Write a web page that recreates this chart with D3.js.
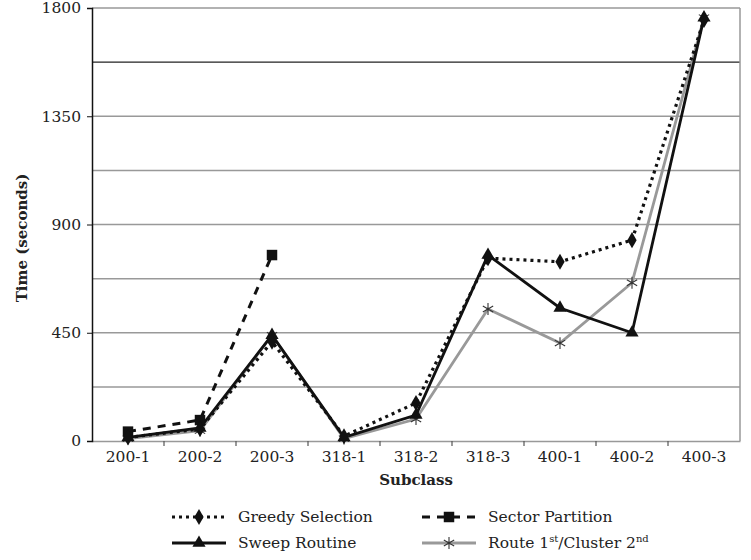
<!DOCTYPE html>
<html>
<head>
<meta charset="utf-8">
<script src="https://cdn.jsdelivr.net/npm/d3@7"></script>
<style>
  body { margin: 0; background: #fff; }
  text { font-family: "DejaVu Serif", "Liberation Serif", serif; fill: #222; }
</style>
</head>
<body>
<svg id="chart" width="751" height="560"></svg>
<script>
// data
var subclasses = ["200-1", "200-2", "200-3", "318-1", "318-2", "318-3", "400-1", "400-2", "400-3"];
var greedy = [15, 50, 413, 20, 158, 760, 745, 835, 1750];
var sector = [39, 87, 773];
var sweep = [15, 54, 440, 15, 108, 773, 553, 450, 1760];
var route = [10, 43, 440, 10, 91, 549, 407, 658, 1760];
var yTicks = [0, 450, 900, 1350, 1800];
var yGrid = [225, 450, 675, 900, 1125, 1350, 1575, 1800];

var svg = d3.select("#chart");
var plotL = 92, plotR = 740, plotT = 8, plotB = 441;

var x = d3.scaleBand().domain(subclasses).range([plotL, plotR]);
var y = d3.scaleLinear().domain([0, 1800]).range([plotB, plotT]);

// gridlines
svg.selectAll("line.grid")
    .data(yGrid)
    .enter()
    .append("line")
    .attr("class", "grid")
    .attr("x1", plotL).attr("x2", plotR)
    .attr("y1", function (d) { return y(d); })
    .attr("y2", function (d) { return y(d); })
    .attr("stroke", function (d) { return d == 1575 ? "#222" : "#999"; })
    .attr("stroke-width", function (d) { return d == 1575 ? 1.2 : 1.5; });

// right border
svg.append("line")
    .attr("x1", plotR).attr("x2", plotR).attr("y1", plotT).attr("y2", plotB)
    .attr("stroke", "#999").attr("stroke-width", 1.5);

// x axis
var xAxis = svg.append("g")
    .attr("transform", "translate(0," + plotB + ")")
    .call(d3.axisBottom(x).tickSize(0).tickPadding(10));
xAxis.select(".domain").attr("stroke", "#999").attr("stroke-width", 1.5);
xAxis.selectAll("text").attr("font-size", 15.5).style("font-family", "DejaVu Serif, serif").attr("fill", "#222");
// boundary ticks between categories
svg.selectAll("line.xtick")
    .data(subclasses.slice(1))
    .enter()
    .append("line")
    .attr("class", "xtick")
    .attr("x1", function (d) { return x(d); })
    .attr("x2", function (d) { return x(d); })
    .attr("y1", plotB).attr("y2", plotB + 5)
    .attr("stroke", "#555").attr("stroke-width", 1.2);

// y axis
var yAxis = svg.append("g")
    .attr("transform", "translate(" + plotL + ",0)")
    .call(d3.axisLeft(y).tickValues(yTicks).tickFormat(d3.format("d")).tickSize(5).tickPadding(6));
yAxis.select(".domain").attr("stroke", "#111").attr("stroke-width", 1.5);
yAxis.selectAll("line").attr("stroke", "#111");
yAxis.selectAll("text").attr("font-size", 15.5).style("font-family", "DejaVu Serif, serif").attr("fill", "#222");

// axis titles
svg.append("text")
    .attr("x", (plotL + plotR) / 2).attr("y", 485)
    .attr("text-anchor", "middle")
    .attr("font-size", 15).attr("font-weight", "bold")
    .text("Subclass");
svg.append("text")
    .attr("transform", "translate(27,238) rotate(-90)")
    .attr("text-anchor", "middle")
    .attr("font-size", 15).attr("font-weight", "bold")
    .text("Time (seconds)");

var series = [
    { name: "Greedy Selection", values: greedy, color: "#111", dash: "3,4", width: 3.2, symbol: d3.symbolDiamond, size: 75, stroke: false },
    { name: "Sector Partition", values: sector, color: "#111", dash: "8,7", width: 3, symbol: d3.symbolSquare, size: 110, stroke: false },
    { name: "Sweep Routine", values: sweep, color: "#111", dash: null, width: 2.8, symbol: d3.symbolTriangle, size: 75, stroke: false },
    { name: "Route", values: route, color: "#999", dash: null, width: 2.8, symbol: d3.symbolAsterisk, size: 100, stroke: true }
];

var line = d3.line()
    .x(function (d, i) { return x(subclasses[i]) + x.bandwidth() / 2; })
    .y(function (d) { return y(d); });

// draw route first so the black ones sit on top
var order = [3, 1, 2, 0];
order.forEach(function (k) {
    var s = series[k];
    svg.append("path")
        .attr("d", line(s.values))
        .attr("fill", "none")
        .attr("stroke", s.color)
        .attr("stroke-width", s.width)
        .attr("stroke-dasharray", s.dash);
});
order.forEach(function (k) {
    var s = series[k];
    svg.selectAll(null)
        .data(s.values)
        .enter()
        .append("path")
        .attr("transform", function (d, i) {
            return "translate(" + (x(subclasses[i]) + x.bandwidth() / 2) + "," + y(d) + ")";
        })
        .attr("d", d3.symbol().type(s.symbol).size(s.size))
        .attr("fill", s.stroke ? "none" : "#111")
        .attr("stroke", s.stroke ? "#333" : "none")
        .attr("stroke-width", 1.1);
});

// legend
var legendItems = [
    { s: series[0], x: 172, y: 517 },
    { s: series[1], x: 422, y: 517 },
    { s: series[2], x: 172, y: 543 },
    { s: series[3], x: 422, y: 543 }
];
legendItems.forEach(function (it) {
    var s = it.s;
    svg.append("line")
        .attr("x1", it.x).attr("x2", it.x + 54)
        .attr("y1", it.y).attr("y2", it.y)
        .attr("stroke", s.color).attr("stroke-width", s.width)
        .attr("stroke-dasharray", s.dash);
    svg.append("path")
        .attr("transform", "translate(" + (it.x + 27) + "," + it.y + ")")
        .attr("d", d3.symbol().type(s.symbol).size(s.size))
        .attr("fill", s.stroke ? "none" : "#111")
        .attr("stroke", s.stroke ? "#333" : "none")
        .attr("stroke-width", 1.1);
    var t = svg.append("text")
        .attr("x", it.x + 66).attr("y", it.y + 5)
        .attr("font-size", 15.5);
    if (s.name == "Route") {
        t.append("tspan").text("Route 1");
        t.append("tspan").attr("dy", -6).attr("font-size", 10).text("st");
        t.append("tspan").attr("dy", 6).text("/Cluster 2");
        t.append("tspan").attr("dy", -6).attr("font-size", 10).text("nd");
    } else {
        t.text(s.name);
    }
});
</script>
</body>
</html>
